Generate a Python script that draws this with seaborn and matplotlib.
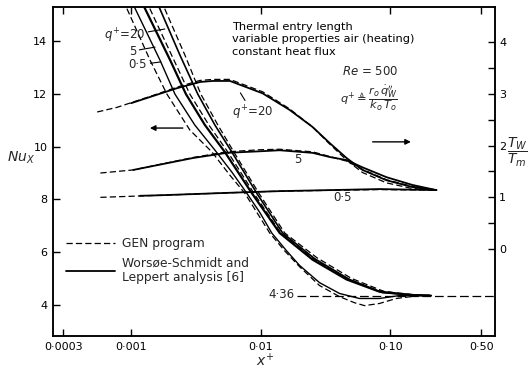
import matplotlib
matplotlib.use('Agg')
import matplotlib.pyplot as plt
import seaborn as sns
import pandas as pd
from matplotlib.lines import Line2D
from matplotlib.ticker import NullLocator

sns.set_theme(style='ticks')
plt.rcParams['font.family'] = ['DejaVu Sans']
plt.rcParams['mathtext.fontset'] = 'dejavusans'

# ---------------- data: local Nusselt number (left axis) ----------------
nu_x_q05_gen = [8.68e-4, 1.40e-3, 1.89e-3, 2.84e-3, 4.20e-3, 5.78e-3, 7.53e-3, 0.01173, 0.01531,
                0.01995, 0.0284, 0.0405, 0.0528, 0.0631, 0.0822, 0.111, 0.167]
nu_q05_gen = [15.55, 13.28, 11.99, 10.63, 9.80, 8.92, 8.24, 6.73, 6.05,
              5.45, 4.74, 4.32, 4.09, 3.98, 4.06, 4.25, 4.36]
nu_x_q05_ws = [1.0e-3, 1.67e-3, 2.18e-3, 3.10e-3, 4.43e-3, 5.98e-3, 7.80e-3, 9.8e-3, 0.01216,
               0.01585, 0.01995, 0.0284, 0.0405, 0.0578, 0.0822, 0.117, 0.20]
nu_q05_ws = [15.55, 13.28, 11.99, 10.82, 9.87, 9.04, 8.24, 7.52, 6.73,
             6.05, 5.50, 4.85, 4.44, 4.25, 4.25, 4.36, 4.36]
nu_x_q5_ws = [1.19e-3, 2.0e-3, 2.65e-3, 3.71e-3, 5.28e-3, 8.53e-3, 0.0140, 0.0251, 0.0459, 0.0822, 0.1476, 0.20]
nu_q5_ws = [15.55, 13.28, 11.99, 10.82, 9.80, 8.24, 6.73, 5.72, 4.97, 4.51, 4.38, 4.36]
nu_x_q5_gen = [1.30e-3, 2.14e-3, 2.84e-3, 3.98e-3, 5.57e-3, 8.84e-3, 0.01426, 0.0247, 0.0443, 0.0794, 0.140, 0.183]
nu_q5_gen = [15.55, 13.28, 11.99, 10.82, 9.80, 8.24, 6.73, 5.80, 5.05, 4.55, 4.38, 4.36]
nu_x_q20_ws = [1.56e-3, 2.38e-3, 3.27e-3, 4.43e-3, 5.98e-3, 9.31e-3, 0.01475, 0.0260, 0.0484, 0.0867, 0.153, 0.2065]
nu_q20_ws = [15.55, 13.47, 11.99, 10.82, 9.80, 8.24, 6.73, 5.76, 4.97, 4.47, 4.38, 4.36]
nu_x_q20_gen = [1.70e-3, 2.60e-3, 3.45e-3, 4.67e-3, 6.20e-3, 9.66e-3, 0.01531, 0.0270, 0.0501, 0.0899, 0.161, 0.218]
nu_q20_gen = [15.55, 13.47, 11.99, 10.82, 9.80, 8.24, 6.73, 5.80, 5.01, 4.51, 4.38, 4.36]

# fully developed value
nu_fd_x = [0.019, 0.64]
nu_fd = [4.36, 4.36]

# ---------------- data: wall / bulk temperature ratio (right axis) ----------------
tr_x_q20_ws = [1.0e-3, 1.40e-3, 2.26e-3, 3.40e-3, 4.28e-3, 5.78e-3, 0.01035, 0.0167, 0.0251, 0.0340,
               0.0459, 0.0609, 0.0932, 0.1476, 0.226]
tr_q20_ws = [2.82, 2.94, 3.11, 3.23, 3.25, 3.25, 3.01, 2.69, 2.36, 2.05, 1.76, 1.53, 1.33, 1.20, 1.14]
tr_x_q20_gen = [5.48e-4, 7.8e-4, 1.40e-3, 2.26e-3, 3.40e-3, 4.28e-3, 5.78e-3, 0.01035, 0.0167, 0.0251,
                0.0340, 0.0459, 0.0609, 0.0932, 0.1476, 0.226]
tr_q20_gen = [2.65, 2.74, 2.95, 3.13, 3.26, 3.28, 3.28, 3.04, 2.71, 2.36, 2.03, 1.72, 1.48, 1.28, 1.17, 1.14]
tr_x_q5_ws = [1.04e-3, 3.0e-3, 5.47e-3, 9.82e-3, 0.0140, 0.0251, 0.0340, 0.0459, 0.0609, 0.0932, 0.1476, 0.226]
tr_q5_ws = [1.53, 1.76, 1.86, 1.89, 1.91, 1.86, 1.78, 1.72, 1.58, 1.39, 1.24, 1.14]
tr_x_q5_gen = [5.8e-4, 1.04e-3, 3.0e-3, 5.47e-3, 9.82e-3, 0.0140, 0.0251, 0.0340, 0.0459, 0.0609, 0.0932, 0.1476, 0.226]
tr_q5_gen = [1.47, 1.53, 1.77, 1.88, 1.92, 1.93, 1.88, 1.79, 1.70, 1.54, 1.34, 1.21, 1.14]
tr_x_q05_ws = [1.17e-3, 1.67e-3, 7.8e-3, 0.0140, 0.0822, 0.226]
tr_q05_ws = [1.03, 1.04, 1.10, 1.12, 1.16, 1.14]
tr_x_q05_gen = [5.8e-4, 1.67e-3, 7.8e-3, 0.0140, 0.0822, 0.226]
tr_q05_gen = [1.00, 1.04, 1.10, 1.12, 1.15, 1.14]

x_ticks = [0.0003, 0.001, 0.01, 0.10, 0.50]
x_tick_labels = ['0·0003', '0·001', '0·01', '0·10', '0·50']
nu_ticks = [4, 6, 8, 10, 12, 14]
tr_ticks = [0, 1, 2, 3, 4]

DASH = (0, (5, 2.5))
K = 'black'

fig = plt.figure(figsize=(5.32, 3.77), dpi=100)
ax = fig.add_axes([0.0996, 0.1088, 0.8308, 0.8727])
ax.set_xscale('log')
ax2 = ax.twinx()


def draw(axis, xs, ys, gen, lw=None):
    df = pd.DataFrame({'x': xs, 'y': ys})
    sns.lineplot(data=df, x='x', y='y', ax=axis, color=K, estimator=None, sort=False,
                 linewidth=(lw if lw else (0.9 if gen else 1.3)),
                 linestyle=DASH if gen else '-')


# Nu curves
draw(ax, nu_x_q05_gen, nu_q05_gen, True)
draw(ax, nu_x_q05_ws, nu_q05_ws, False, 1.0)
draw(ax, nu_x_q5_gen, nu_q5_gen, True)
draw(ax, nu_x_q5_ws, nu_q5_ws, False, 1.6)
draw(ax, nu_x_q20_gen, nu_q20_gen, True)
draw(ax, nu_x_q20_ws, nu_q20_ws, False, 1.2)
sns.lineplot(x=nu_fd_x, y=nu_fd, ax=ax, color=K, linewidth=0.9, linestyle=(0, (7, 3)),
             estimator=None, sort=False)

# temperature ratio curves
draw(ax2, tr_x_q20_gen, tr_q20_gen, True)
draw(ax2, tr_x_q20_ws, tr_q20_ws, False)
draw(ax2, tr_x_q5_gen, tr_q5_gen, True)
draw(ax2, tr_x_q5_ws, tr_q5_ws, False)
draw(ax2, tr_x_q05_gen, tr_q05_gen, True)
draw(ax2, tr_x_q05_ws, tr_q05_ws, False)

# axes limits & ticks
ax.set_xlim(0.00025, 0.64)
ax.set_ylim(2.83, 15.29)
ax2.set_ylim(-1.68, 4.68)
ax.set_xticks(x_ticks)
ax.set_xticklabels(x_tick_labels)
ax.xaxis.set_minor_locator(NullLocator())
ax.set_yticks(nu_ticks)
ax.set_yticklabels([str(v) for v in nu_ticks])
ax2.set_yticks(tr_ticks)
ax2.set_yticklabels([str(v) for v in tr_ticks])
ax2.set_yticks([0.5, 1.5, 2.5, 3.5], minor=True)
ax.set_xlabel('')
ax.set_ylabel('')
ax2.set_xlabel('')
ax2.set_ylabel('')

ax.tick_params(axis='both', which='both', direction='in', length=5, width=1.0,
               top=True, right=False, labelsize=8, colors=K, pad=4)
ax2.tick_params(axis='y', which='both', direction='in', length=5, width=1.0,
                left=False, right=True, labelsize=8, colors=K, pad=3)
for a in (ax, ax2):
    for s in a.spines.values():
        s.set_linewidth(1.1)
        s.set_color(K)

fx = dict(xycoords='axes fraction', textcoords='axes fraction')

# text blocks
ax.text(0.405, 0.955, 'Thermal entry length\nvariable properties air (heating)\nconstant heat flux',
        transform=ax.transAxes, ha='left', va='top', fontsize=8.2, linespacing=1.3, color=K)
ax.text(0.718, 0.805, r'$Re$ = 500', transform=ax.transAxes, ha='center', va='center', fontsize=8.5)
ax.text(0.715, 0.722, r'$q^{+} \triangleq \dfrac{r_o\,\dot{q}_W^{\prime\prime}}{k_o\,T_o}$',
        transform=ax.transAxes, ha='center', va='center', fontsize=8.2)

# arrows
ax.annotate('', xy=(0.213, 0.632), xytext=(0.30, 0.632), **fx,
            arrowprops=dict(arrowstyle='-|>', color=K, lw=1.0, mutation_scale=8))
ax.annotate('', xy=(0.816, 0.590), xytext=(0.717, 0.590), **fx,
            arrowprops=dict(arrowstyle='-|>', color=K, lw=1.0, mutation_scale=8))

# labels of Nu curves
lead = dict(arrowstyle='-', color=K, lw=0.8, shrinkA=0, shrinkB=0)
ax.annotate(r'$q^{+}$=20', xy=(0.253, 0.933), xytext=(0.208, 0.912), **fx,
            ha='right', va='center', fontsize=8.5, arrowprops=lead)
ax.annotate('5', xy=(0.231, 0.878), xytext=(0.188, 0.866), **fx,
            ha='right', va='center', fontsize=8.5, arrowprops=lead)
ax.annotate('0·5', xy=(0.244, 0.833), xytext=(0.213, 0.824), **fx,
            ha='right', va='center', fontsize=8.5, arrowprops=lead)

# labels of temperature curves
ax.annotate(r'$q^{+}$=20', xy=(0.424, 0.739), xytext=(0.405, 0.678), **fx,
            ha='left', va='center', fontsize=8.5, arrowprops=lead)
ax.text(0.554, 0.535, '5', transform=ax.transAxes, ha='center', va='center', fontsize=8.5)
ax.text(0.656, 0.422, '0·5', transform=ax.transAxes, ha='center', va='center', fontsize=8.5)
ax.text(0.547, 0.125, '4·36', transform=ax.transAxes, ha='right', va='center', fontsize=8.5)

# axis titles
ax.text(-0.072, 0.541, r'$Nu_X$', transform=ax.transAxes, ha='center', va='center', fontsize=10)
ax.text(0.48, -0.075, r'$x^{+}$', transform=ax.transAxes, ha='center', va='center', fontsize=10)
ax.text(1.05, 0.559, r'$\dfrac{T_W}{T_m}$', transform=ax.transAxes, ha='center', va='center',
        fontsize=10)

# legend
handles = [Line2D([], [], color=K, lw=0.9, linestyle=DASH),
           Line2D([], [], color=K, lw=1.3, linestyle='-')]
ax.legend(handles, ['GEN program', 'Worsøe-Schmidt and\nLeppert analysis [6]'],
          loc='upper left', bbox_to_anchor=(0.03, 0.30), frameon=False, fontsize=8.8,
          handlelength=4.0, handletextpad=0.6, labelspacing=0.5, borderaxespad=0, borderpad=0)

fig.savefig('out.png', dpi=100)
